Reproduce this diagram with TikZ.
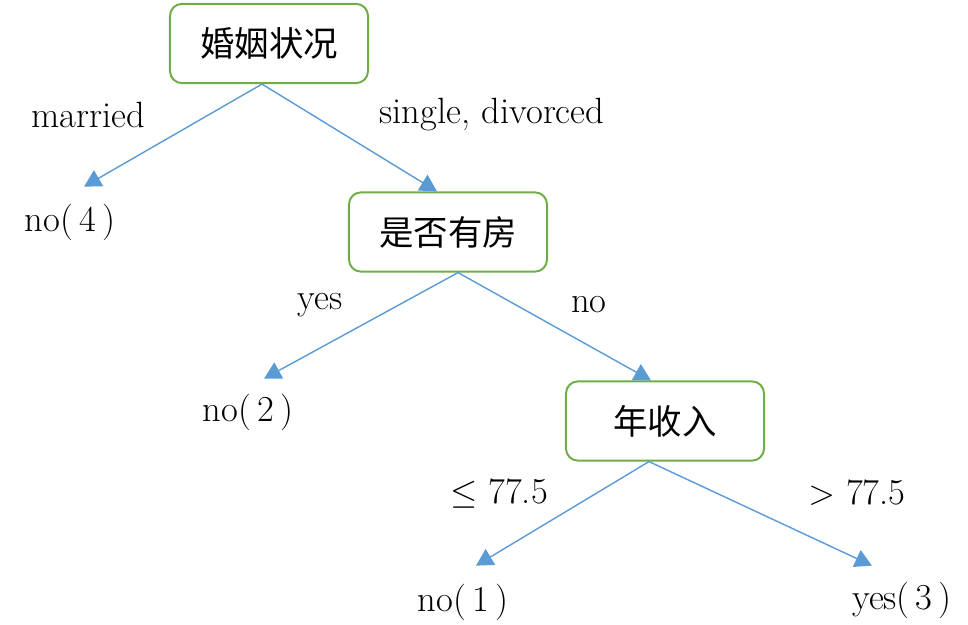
\documentclass[tikz,border=0pt]{standalone}
\usepackage{fontspec}
\newfontfamily\cjk{Noto Sans CJK SC}
\usetikzlibrary{arrows.meta}
\definecolor{boxgreen}{RGB}{112,173,71}
\definecolor{edgeblue}{RGB}{91,155,213}
\tikzset{
    testbox/.style={draw=boxgreen,line width=1.4pt,rounded corners=0.3cm,
        minimum width=4.95cm,minimum height=1.98cm,font=\cjk\fontsize{24.5}{28}\selectfont},
    leaf/.style={inner sep=2pt,font=\fontsize{26}{30}\selectfont},
    branch/.style={inner sep=2pt,font=\fontsize{26}{30}\selectfont},
    edge/.style={draw=edgeblue,line width=1pt,-{Triangle[length=12pt,width=13pt]}}
}
\begin{document}
\begin{tikzpicture}[x=0.025cm,y=-0.025cm]
  \useasboundingbox (0,0) rectangle (968,625);
  % Draw tests
  \node[testbox] (root)   at (269,43.5) {婚姻状况};
  \node[testbox] (house)  at (448,232)  {是否有房};
  \node[testbox] (income) at (665,421)  {年收入};
  % Draw leaves
  \node[leaf] (leaf4) at (70,222)  {no(\,4\,)};
  \node[leaf] (leaf2) at (248,412) {no(\,2\,)};
  \node[leaf] (leaf1) at (463,602) {no(\,1\,)};
  \node[leaf] (leaf3) at (902,600) {yes(\,3\,)};
  % Draw edges
  \draw[edge] ([shift={(-7,0)}]root.south) -- ([shift={(14,-14)}]leaf4.north);
  \draw[edge] ([shift={(-7,0)}]root.south) -- ([shift={(-11,0)}]house.north);
  \draw[edge] ([shift={(10,0)}]house.south) -- ([shift={(16,-12)}]leaf2.north);
  \draw[edge] ([shift={(10,0)}]house.south) -- ([shift={(-14,0)}]income.north);
  \draw[edge] ([shift={(-16,0)}]income.south) -- ([shift={(13,-15)}]leaf1.north);
  \draw[edge] ([shift={(-16,0)}]income.south) -- ([shift={(-30,-13)}]leaf3.north);
  % Draw labels
  \node[branch] (married)  at (88,115)  {married};
  \node[branch] (single)   at (492,115) {single, divorced};
  \node[branch] (hasyes)   at (320,305) {yes};
  \node[branch] (hasno)    at (589,305) {no};
  \node[branch] (incle)    at (499,493) {$\leq$ 77.5};
  \node[branch] (incgt)    at (857,493) {$>$ 77.5};
\end{tikzpicture}
\end{document}
